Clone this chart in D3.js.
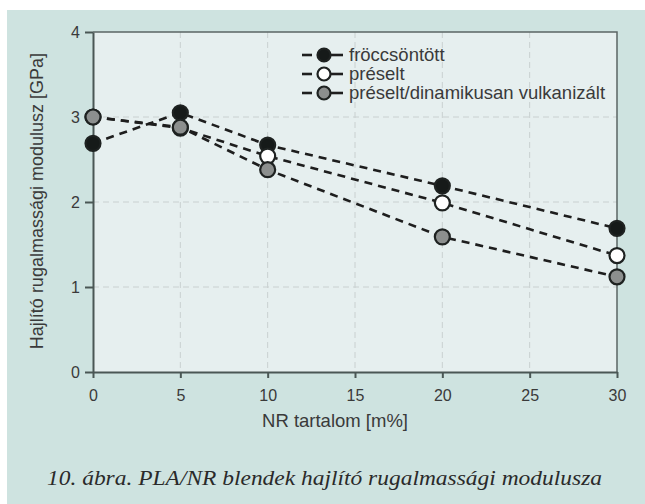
<!DOCTYPE html>
<html lang="hu">
  <head>
    <meta charset="UTF-8" />
    <title>PLA/NR blendek</title>
    <style>
      body { margin: 0; background: #fff; }
      svg { display: block; }
      .grid line { stroke: #c9d0d0; stroke-dasharray: 6,4; stroke-width: 1; }
      .axis text { font-family: "Liberation Sans", Arial, sans-serif; font-size: 16px; fill: #3a3a3a; }
      .axis path, .axis line { stroke: #4a5755; stroke-width: 2; }
      .series { fill: none; stroke: #1e1e1e; stroke-width: 2.6; stroke-dasharray: 8,6; }
    </style>
  </head>
  <body>
    <div id="chart"></div>
    <script src="https://cdn.jsdelivr.net/npm/d3@7"></script>
    <script>
      // NR tartalom [m%]
      var nrContent = [0, 5, 10, 20, 30];
      var froccsontott = [2.69, 3.05, 2.67, 2.19, 1.69];
      var preselt = [3.0, 2.87, 2.54, 1.99, 1.37];
      var preseltDin = [3.0, 2.88, 2.38, 1.59, 1.12];
      var seriesNames = ["fröccsöntött", "préselt", "préselt/dinamikusan vulkanizált"];
      var xTicks = [0, 5, 10, 15, 20, 25, 30];
      var yTicks = [0, 1, 2, 3, 4];

      var width = 645, height = 504;
      var plot = { left: 93, right: 617, top: 32, bottom: 372 };

      var svg = d3.select("#chart").append("svg")
                  .attr("width", width)
                  .attr("height", height);

      // teal page background
      svg.append("rect")
         .attr("x", 7).attr("y", 10)
         .attr("width", width - 7).attr("height", height - 10)
         .attr("fill", "#cee3e0");

      var x = d3.scaleLinear().domain([0, 30]).range([plot.left, plot.right]);
      var y = d3.scaleLinear().domain([0, 4]).range([plot.bottom, plot.top]);

      svg.append("rect")
         .attr("x", plot.left).attr("y", plot.top)
         .attr("width", plot.right - plot.left)
         .attr("height", plot.bottom - plot.top)
         .attr("fill", "#e6efef");

      // grid
      var grid = svg.append("g").attr("class", "grid");
      grid.selectAll(".gx").data(xTicks.slice(1, -1)).enter().append("line")
          .attr("x1", function(d){ return x(d); }).attr("x2", function(d){ return x(d); })
          .attr("y1", plot.top).attr("y2", plot.bottom);
      grid.selectAll(".gy").data(yTicks.slice(1, -1)).enter().append("line")
          .attr("x1", plot.left).attr("x2", plot.right)
          .attr("y1", function(d){ return y(d); }).attr("y2", function(d){ return y(d); });

      // top + right border (thinner)
      svg.append("path")
         .attr("d", "M" + plot.left + "," + plot.top + "H" + plot.right + "V" + plot.bottom)
         .attr("fill", "none").attr("stroke", "#5b6664").attr("stroke-width", 1.5);

      var xAxis = d3.axisBottom(x).tickValues(xTicks).tickSize(6).tickPadding(12)
                    .tickSizeOuter(0).tickFormat(d3.format("d"));
      var yAxis = d3.axisLeft(y).tickValues(yTicks).tickSize(8).tickPadding(5)
                    .tickSizeOuter(0).tickFormat(d3.format("d"));

      svg.append("g").attr("class", "axis")
         .attr("transform", "translate(0," + plot.bottom + ")")
         .call(xAxis);
      svg.append("g").attr("class", "axis")
         .attr("transform", "translate(" + plot.left + ",0)")
         .call(yAxis);

      svg.append("text")
         .attr("x", 335).attr("y", 427)
         .attr("text-anchor", "middle")
         .attr("font-family", "Liberation Sans, Arial, sans-serif")
         .attr("font-size", 18.5).attr("fill", "#3a3a3a")
         .text("NR tartalom [m%]");

      svg.append("text")
         .attr("transform", "translate(43,53) rotate(-90)")
         .attr("text-anchor", "end")
         .attr("font-family", "Liberation Sans, Arial, sans-serif")
         .attr("font-size", 18).attr("fill", "#3a3a3a")
         .text("Hajlító rugalmassági modulusz [GPa]");

      // series
      var fills = ["#161a19", "#ffffff", "#8c8f8e"];
      var allSeries = [froccsontott, preselt, preseltDin];
      var line = d3.line()
                   .x(function(d, i){ return x(nrContent[i]); })
                   .y(function(d){ return y(d); });

      [0, 1, 2].forEach(function(s) {
        svg.append("path").datum(allSeries[s]).attr("class", "series").attr("d", line);
      });
      // black first, then white, grey on top (as in the picture)
      [0, 1, 2].forEach(function(s) {
        svg.selectAll(".pt" + s).data(allSeries[s]).enter().append("circle")
           .attr("cx", function(d, i){ return x(nrContent[i]); })
           .attr("cy", function(d){ return y(d); })
           .attr("r", 7.5)
           .attr("fill", fills[s])
           .attr("stroke", "#1e2221")
           .attr("stroke-width", 2.2);
      });

      // legend
      var legend = svg.append("g").attr("transform", "translate(302,55)");
      seriesNames.forEach(function(name, i) {
        var g = legend.append("g").attr("transform", "translate(0," + (i * 19) + ")");
        g.append("line").attr("x1", 0).attr("x2", 10).attr("y1", 0).attr("y2", 0)
         .attr("stroke", "#1e1e1e").attr("stroke-width", 2.6);
        g.append("line").attr("x1", 24).attr("x2", 41).attr("y1", 0).attr("y2", 0)
         .attr("stroke", "#1e1e1e").attr("stroke-width", 2.6);
        g.append("circle").attr("cx", 22).attr("cy", 0).attr("r", 6.5)
         .attr("fill", fills[i]).attr("stroke", "#1e2221").attr("stroke-width", 2.2);
        g.append("text").attr("x", 47).attr("y", 6)
         .attr("font-family", "Liberation Sans, Arial, sans-serif")
         .attr("font-size", 18.5).attr("fill", "#3a3a3a")
         .text(name);
      });

      // caption
      svg.append("text")
         .attr("x", 47).attr("y", 485)
         .attr("font-family", "Liberation Serif, Times New Roman, serif")
         .attr("font-style", "italic")
         .attr("font-size", 22).attr("fill", "#2a2a2a")
         .attr("textLength", 555).attr("lengthAdjust", "spacingAndGlyphs")
         .text("10. ábra. PLA/NR blendek hajlító rugalmassági modulusza");
    </script>
  </body>
</html>
